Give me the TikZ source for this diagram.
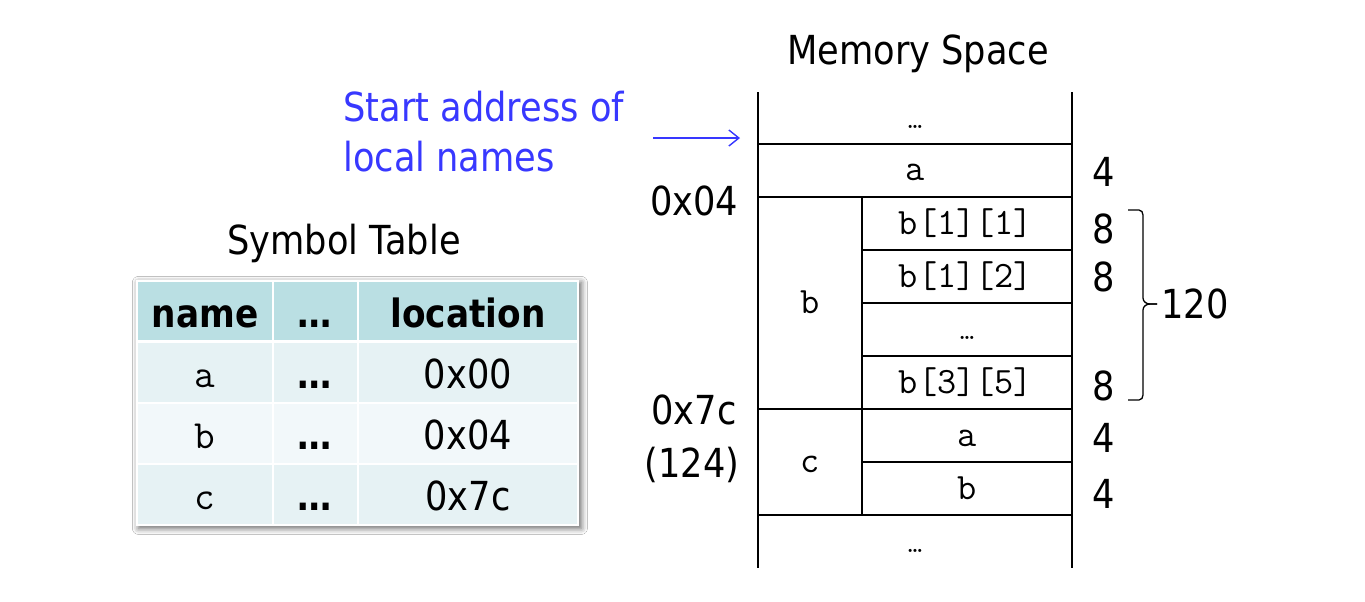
\documentclass[tikz,border=0pt]{standalone}
\usepackage{fontspec}
\setmainfont{DejaVu Sans}[FakeStretch=0.88]
\usetikzlibrary{shadows.blur,arrows.meta}
\definecolor{hdcol}{RGB}{186,223,227}
\definecolor{rowA}{RGB}{230,242,244}
\definecolor{rowB}{RGB}{242,248,250}
\definecolor{startblue}{RGB}{56,56,255}
\begin{document}
\begin{tikzpicture}[x=0.5pt,y=-0.5pt,
  txt/.style={font=\fontsize{20}{24}\selectfont, inner sep=0pt, anchor=base},
  mono/.style={font=\fontsize{18.6}{20}\selectfont\ttfamily, inner sep=0pt, anchor=base},
  mdots/.style={font=\fontsize{14}{16}\selectfont\ttfamily, inner sep=0pt, anchor=base},
  tmono/.style={font=\fontsize{20}{22}\selectfont\ttfamily, inner sep=0pt, anchor=base},
  hdtxt/.style={font=\fontsize{19.5}{22}\selectfont\bfseries, inner sep=0pt, anchor=base},
  cell/.style={inner sep=0pt, draw=none},
  mem/.style={line width=1pt},
  brc/.style={line width=0.65pt},
  ]
\useasboundingbox (0,0) rectangle (1365,601);
\fill[white] (0,0) rectangle (1365,601);

% titles and labels
\node[txt] (title) at (918,64) {Memory Space};
\node[txt, startblue, anchor=base west] (start1) at (343,121) {Start address of};
\node[txt, startblue, anchor=base west] (start2) at (343,171) {local names};
\node[txt] (addr1) at (694,215) {0x04};
\node[txt] (addr2) at (694,424) {0x7c};
\node[txt] (addr3) at (692,477) {(124)};
\node[txt] (symt) at (344,254) {Symbol Table};

% arrow
\coordinate (arrS) at (653,138);
\coordinate (arrE) at (740,138);
\draw[startblue, line width=0.7pt, -{Straight Barb[length=5pt,width=8pt]}] (arrS) -- (arrE);

% memory frame
\draw[mem] (758,92) -- (758,568);
\draw[mem] (1072,92) -- (1072,568);
\foreach \y in {144,197,409,515} \draw[mem] (758,\y) -- (1072,\y);
\draw[mem] (862,197) -- (862,515);
\foreach \y in {250,303,356,462} \draw[mem] (862,\y) -- (1072,\y);

% memory texts
\node[mdots] (m0) at (915,128) {…};
\node[mono] (ma) at (915,180) {a};
\node[mono] (mb) at (810,313) {b};
\node[mono] (mb11) at (966,234) {b[1][1]};
\node[mono] (mb12) at (966,287) {b[1][2]};
\node[mdots] (mbd) at (967,339) {…};
\node[mono] (mb35) at (966,393) {b[3][5]};
\node[mono] (mc) at (810,472) {c};
\node[mono] (mca) at (967,446) {a};
\node[mono] (mcb) at (967,499) {b};
\node[mdots] (m9) at (915,552) {…};

% sizes
\node[txt] (s1) at (1104,186) {4};
\node[txt] (s2) at (1104,243) {8};
\node[txt] (s3) at (1104,291) {8};
\node[txt] (s4) at (1104,400) {8};
\node[txt] (s5) at (1104,452) {4};
\node[txt] (s6) at (1104,508) {4};

% brace
\coordinate (brT) at (1128,210);
\coordinate (brM) at (1157,304);
\coordinate (brB) at (1128,400);
\draw[brc] (brT) -- (1139,210) to[out=0,in=90] (1143,215) -- (1143,298)
  to[out=-90,in=180] (1150,304) -- (brM);
\draw[brc] (brM) -- (1150,304) to[out=180,in=90] (1143,310) -- (1143,395)
  to[out=-90,in=0] (1139,400) -- (brB);
\node[txt] (tot) at (1195,318) {120};

% symbol table
\node[cell, fill=white, minimum width=221.5pt, minimum height=123pt,
  blur shadow={shadow xshift=1.2pt, shadow yshift=-1.2pt, shadow blur radius=3pt, shadow opacity=60}] (tbl) at (357.5,403) {};
\foreach \cx/\cw [count=\i] in {205/67,315.5/41.5,468/109}
  \foreach \cy/\ch/\cc [count=\j] in {311/29/hdcol,372.5/29.5/rowA,433.5/29.5/rowB,494.5/29.5/rowA}
    \node[cell, fill=\cc, minimum width=\cw pt, minimum height=\ch pt] (c\i\j) at (\cx,\cy) {};

\node[hdtxt] (tn) at (205,327) {name};
\node[hdtxt] (td) at (315,327) {…};
\node[hdtxt] (tl) at (468,327) {location};

\node[tmono] (ra) at (205,387) {a};
\node[hdtxt] (rad) at (315,388) {…};
\node[txt] (ral) at (468,388) {0x00};
\node[tmono] (rb) at (205,448) {b};
\node[hdtxt] (rbd) at (315,449) {…};
\node[txt] (rbl) at (468,449) {0x04};
\node[tmono] (rc) at (205,509) {c};
\node[hdtxt] (rcd) at (315,510) {…};
\node[txt] (rcl) at (468,510) {0x7c};
\end{tikzpicture}
\end{document}
